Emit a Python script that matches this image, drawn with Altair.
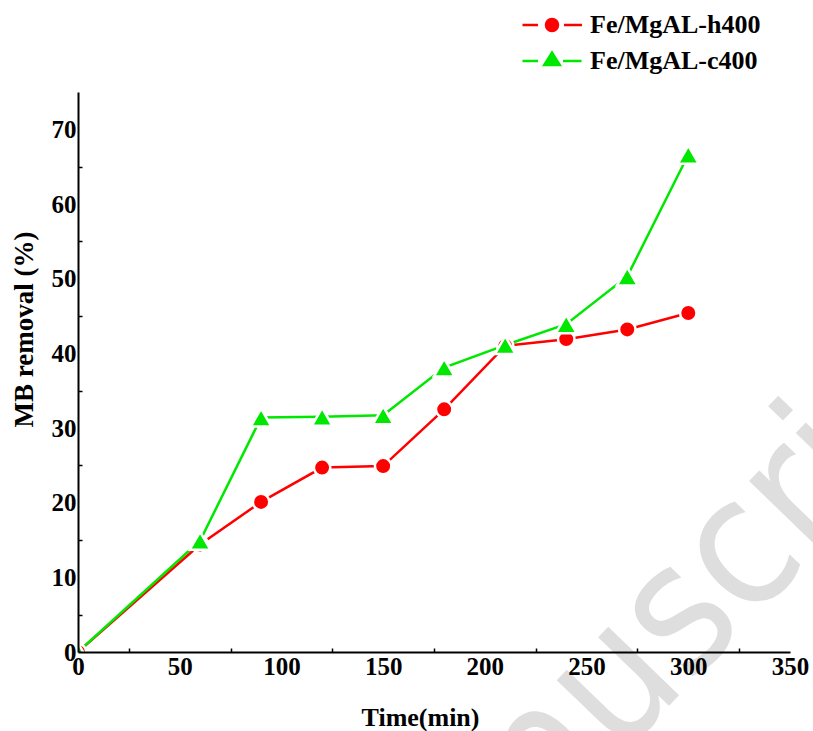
import altair as alt
import pandas as pd

# Methylene blue removal over time for the two catalysts
time_min = [0, 60, 90, 120, 150, 180, 210, 240, 270, 300]
removal_h400 = [0, 14.4, 20.1, 24.7, 24.9, 32.5, 41.0, 41.9, 43.2, 45.4]
removal_c400 = [0, 14.9, 31.4, 31.5, 31.7, 38.1, 41.1, 43.9, 50.3, 66.6]

series_names = ["Fe/MgAL-h400", "Fe/MgAL-c400"]
series_colors = ["#ff0000", "#00e800"]

x_ticks = [0, 50, 100, 150, 200, 250, 300, 350]
y_ticks = [0, 10, 20, 30, 40, 50, 60, 70]
x_minor = [25, 75, 125, 175, 225, 275, 325]
y_minor = [5, 15, 25, 35, 45, 55, 65]

watermark_text = ["Accepted Manuscript"]

df = pd.DataFrame({
    "time": time_min * 2,
    "removal": removal_h400 + removal_c400,
    "series": [series_names[0]] * len(time_min) + [series_names[1]] * len(time_min),
})

W, H = 712, 560
SERIF = "Liberation Serif"

x_scale = alt.Scale(domain=[0, 350], nice=False, zero=False)
y_scale = alt.Scale(domain=[0, 75], nice=False, zero=False)

x_plain = alt.X("time:Q", scale=x_scale, axis=None)
y_plain = alt.Y("removal:Q", scale=y_scale, axis=None)

base = alt.Chart(df)
h_data = base.transform_filter(alt.datum.series == series_names[0])
c_data = base.transform_filter(alt.datum.series == series_names[1])

# faint watermark behind everything
wm = alt.Chart(pd.DataFrame({"t": watermark_text})).mark_text(
    font="Liberation Sans Narrow, Arial Narrow, DejaVu Sans Condensed, sans-serif",
    fontSize=180, color="#dedede", angle=314, align="center", baseline="alphabetic",
).encode(text="t:N", x=alt.value(334), y=alt.value(880))

x_axis_main = alt.Axis(
    values=x_ticks, ticks=False, tickSize=0, labelPadding=2, grid=False,
    domainColor="black", domainWidth=2, labelFont=SERIF, labelFontSize=25,
    labelFontWeight="bold", labelColor="black", labelFlush=False, labelOverlap=False,
    format="d", title="Time(min)", titleFont=SERIF, titleFontSize=26,
    titleFontWeight="bold", titleColor="black", titleX=342, titleY=65,
    titleAlign="center", titleBaseline="middle", zindex=1,
)
y_axis_main = alt.Axis(
    values=y_ticks, ticks=False, tickSize=0, labelPadding=2, grid=False,
    domainColor="black", domainWidth=2, labelFont=SERIF, labelFontSize=25,
    labelFontWeight="bold", labelColor="black", labelFlush=False, labelOverlap=False,
    format="d", title="MB removal (%)", titleFont=SERIF, titleFontSize=27,
    titleFontWeight="bold", titleColor="black", titleAngle=270, titleX=-54,
    titleY=237, titleAlign="center", titleBaseline="middle", zindex=1,
)

line_h = h_data.mark_line(strokeWidth=2.5, clip=True, color=series_colors[0]).encode(
    x=alt.X("time:Q", scale=x_scale, axis=x_axis_main),
    y=alt.Y("removal:Q", scale=y_scale, axis=y_axis_main),
)
line_c = c_data.mark_line(strokeWidth=2.5, clip=True, color=series_colors[1]).encode(
    x=x_plain, y=y_plain
)

pts_h = h_data.mark_point(
    shape="circle", filled=True, size=270, opacity=1, fill=series_colors[0],
    stroke="white", strokeWidth=2.5, clip=True
).encode(x=x_plain, y=y_plain)
pts_c = c_data.mark_point(
    shape="triangle-up", filled=True, size=430, opacity=1, fill=series_colors[1],
    stroke="white", strokeWidth=2.5, clip=True
).encode(x=x_plain, y=y_plain)

# legend symbols: line segment with the marker in the middle
legend_paths = [
    "M-2.95,0H-1.4M1.2,0H3M-0.6,0A0.6,0.6,0,1,1,0.6,0A0.6,0.6,0,1,1,-0.6,0Z",
    "M-2.95,0H-1.4M1.1,0H2.95M-0.78,0.4L0.78,0.4L0,-0.85Z",
]


def make_legend():
    return alt.Legend(
        title=None, orient="none", legendX=461, legendY=-80,
        symbolSize=400, symbolStrokeWidth=2.5, symbolOpacity=1,
        labelOffset=25, rowPadding=9, labelLimit=400,
        labelFont=SERIF, labelFontSize=26, labelFontWeight="bold", labelColor="black",
    )


# this layer only feeds the legend; its own marks fall outside the clipped view
legend_layer = base.transform_calculate(offview="-100").mark_point(
    filled=True, opacity=1, strokeWidth=2.5, clip=True
).encode(
    x=x_plain,
    y=alt.Y("offview:Q", scale=y_scale, axis=None),
    fill=alt.Fill("series:N", scale=alt.Scale(domain=series_names, range=series_colors), legend=make_legend()),
    stroke=alt.Stroke("series:N", scale=alt.Scale(domain=series_names, range=series_colors), legend=make_legend()),
    shape=alt.Shape("series:N", scale=alt.Scale(domain=series_names, range=legend_paths), legend=make_legend()),
)

# minor ticks pointing into the plot
minor = base.mark_point(opacity=0).encode(
    x=alt.X("time:Q", scale=x_scale, axis=alt.Axis(
        orient="top", offset=-H, values=x_minor, labels=False, domain=False,
        ticks=True, tickSize=4, tickWidth=1.5, tickColor="black", title=None, grid=False, zindex=1)),
    y=alt.Y("removal:Q", scale=y_scale, axis=alt.Axis(
        orient="right", offset=-W, values=y_minor, labels=False, domain=False,
        ticks=True, tickSize=4, tickWidth=1.5, tickColor="black", title=None, grid=False, zindex=1)),
)

chart = alt.layer(wm, line_h, line_c, pts_h, pts_c, legend_layer, minor).resolve_axis(
    x="independent", y="independent"
).properties(
    width=W, height=H,
    autosize=alt.AutoSizeParams(type="none"),
    padding={"left": 78, "top": 92, "right": 23, "bottom": 79},
    background="white",
).configure_view(stroke=None)

chart.save("out.html", embed_options={"renderer": "svg", "actions": False})
